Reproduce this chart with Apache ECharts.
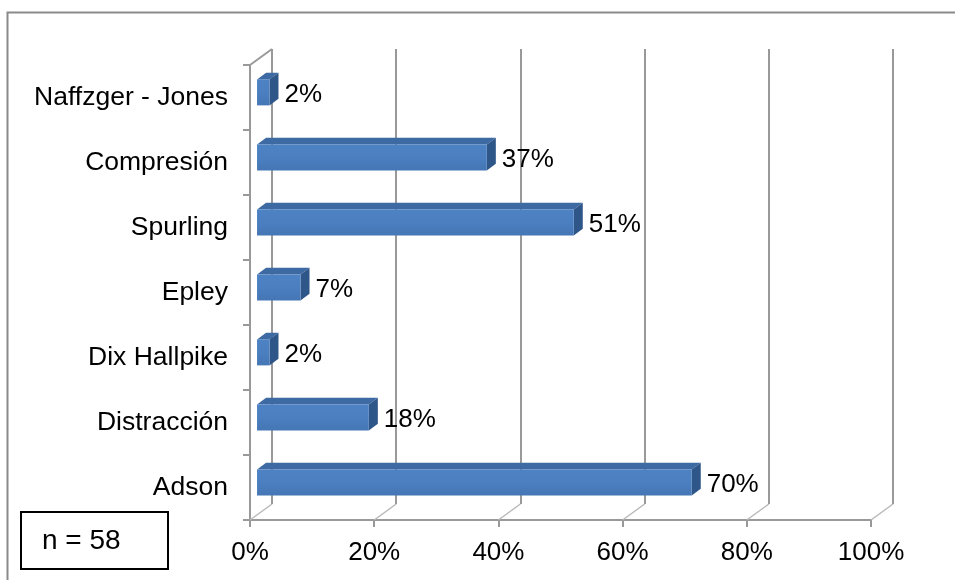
<!DOCTYPE html>
<html>
<head>
<meta charset="utf-8">
<script src="https://cdn.jsdelivr.net/npm/echarts@6/dist/echarts.min.js"></script>
<style>
  html, body { margin: 0; padding: 0; background: #ffffff; }
  #chart { width: 955px; height: 580px; }
</style>
</head>
<body>
<div id="chart"></div>
<script>
// Tests, listed bottom-to-top as the category axis draws them
const categories = ['Adson', 'Distracción', 'Dix Hallpike', 'Epley', 'Spurling', 'Compresión', 'Naffzger - Jones'];
// Share of positive results, in percent
const values = [70, 18, 2, 7, 51, 37, 2];
// Value-axis ticks
const tickValues = [0, 20, 40, 60, 80, 100];
const sampleLabel = 'n = 58';

// Oblique depth of the 3D box: back wall sits this far right/up from the front plane
const DEPTH_X = 22;
const DEPTH_Y = -16;
// Bars occupy this slice of the depth
const BAR_FRONT = 0.32;
const BAR_BACK = 0.73;
const FONT = '"Liberation Sans", Arial, sans-serif';

const chart = echarts.init(document.getElementById('chart'), null, { renderer: 'canvas' });

function renderBar(params, api) {
  const v = api.value(0);
  const c = api.value(1);
  const p0 = api.coord([0, c]);
  const p1 = api.coord([v, c]);
  const band = api.size([0, 1])[1];
  const h = band * 0.4;
  const fx = DEPTH_X * BAR_FRONT, fy = DEPTH_Y * BAR_FRONT;
  const bx = DEPTH_X * BAR_BACK, by = DEPTH_Y * BAR_BACK;
  const yt = p0[1] + fy - h / 2;
  const yb = p0[1] + fy + h / 2;
  const xl = p0[0] + fx;
  const xr = p1[0] + fx;
  const dx = bx - fx, dy = by - fy;
  return {
    type: 'group',
    children: [
      {
        type: 'polygon',
        shape: { points: [[xl, yt], [xr, yt], [xr + dx, yt + dy], [xl + dx, yt + dy]] },
        style: { fill: '#3e6aa4' }
      },
      {
        type: 'polygon',
        shape: { points: [[xr, yt], [xr + dx, yt + dy], [xr + dx, yb + dy], [xr, yb]] },
        style: { fill: '#2f5689' }
      },
      {
        type: 'rect',
        shape: { x: xl, y: yt, width: xr - xl, height: yb - yt },
        style: {
          fill: new echarts.graphic.LinearGradient(0, 0, 0, 1, [
            { offset: 0, color: '#4d82c4' },
            { offset: 0.5, color: '#4b7fc0' },
            { offset: 1, color: '#4576b5' }
          ])
        }
      },
      {
        type: 'text',
        style: {
          x: p1[0] + 22,
          y: p0[1] - 3,
          text: v + '%',
          font: '26px ' + FONT,
          fill: '#000000',
          verticalAlign: 'middle',
          align: 'left'
        }
      }
    ]
  };
}

// Floor diagonals joining each front tick to its back-wall gridline, plus the top-left edge
function renderDepthEdge(params, api) {
  const v = api.value(0);
  const kind = api.value(1);
  const cs = params.coordSys;
  const x = api.coord([v, 0])[0];
  const y = kind === 1 ? cs.y : cs.y + cs.height;
  return {
    type: 'line',
    shape: { x1: x, y1: y, x2: x + DEPTH_X, y2: y + DEPTH_Y },
    style: { stroke: kind === 1 ? '#9a9a9a' : '#b8b8b8', lineWidth: kind === 1 ? 2 : 1.5 }
  };
}

const edgeData = tickValues.map(t => [t, 0]).concat([[0, 1]]);

const option = {
  animation: false,
  backgroundColor: '#ffffff',
  grid: [
    { left: 250, top: 65, width: 621, height: 455, containLabel: false },
    { left: 250 + DEPTH_X, top: 65 + DEPTH_Y, width: 621, height: 455, containLabel: false }
  ],
  xAxis: [
    {
      gridIndex: 0, type: 'value', min: 0, max: 100, interval: 20,
      axisLine: { show: true, lineStyle: { color: '#999999', width: 2 } },
      axisTick: { show: true, length: 7, lineStyle: { color: '#999999', width: 2 } },
      axisLabel: { formatter: '{value}%', color: '#000000', fontSize: 26, fontFamily: FONT, margin: 20 },
      splitLine: { show: false }
    },
    {
      gridIndex: 1, type: 'value', min: 0, max: 100, interval: 20,
      axisLine: { show: false }, axisTick: { show: false }, axisLabel: { show: false },
      splitLine: { show: true, showMinLine: true, showMaxLine: true, lineStyle: { color: '#999999', width: 2 } }
    }
  ],
  yAxis: [
    {
      gridIndex: 0, type: 'category', data: categories, boundaryGap: true,
      axisLine: { show: true, lineStyle: { color: '#999999', width: 2 } },
      axisTick: { show: true, length: 7, lineStyle: { color: '#999999', width: 2 } },
      axisLabel: { color: '#000000', fontSize: 26.5, fontFamily: FONT, margin: 22 },
      splitLine: { show: false }
    },
    {
      gridIndex: 1, type: 'value', min: 0, max: 1, show: false, splitLine: { show: false }
    }
  ],
  series: [
    {
      type: 'custom',
      xAxisIndex: 0, yAxisIndex: 0,
      renderItem: renderDepthEdge,
      data: edgeData,
      z: 3,
      silent: true
    },
    {
      type: 'custom',
      xAxisIndex: 0, yAxisIndex: 0,
      renderItem: renderBar,
      data: values.map((v, i) => [v, i]),
      encode: { x: 0, y: 1 },
      z: 5
    }
  ],
  graphic: [
    {
      type: 'rect',
      shape: { x: 7.5, y: 12.5, width: 1000, height: 700 },
      style: { fill: 'none', stroke: '#8a8a8a', lineWidth: 2 },
      silent: true
    },
    {
      type: 'rect',
      shape: { x: 21, y: 512, width: 147, height: 57 },
      style: { fill: '#ffffff', stroke: '#000000', lineWidth: 2 },
      silent: true
    },
    {
      type: 'text',
      x: 42, y: 541,
      style: { text: sampleLabel, font: '28px ' + FONT, fill: '#000000', verticalAlign: 'middle', align: 'left' },
      silent: true
    }
  ]
};

chart.setOption(option);
</script>
</body>
</html>
